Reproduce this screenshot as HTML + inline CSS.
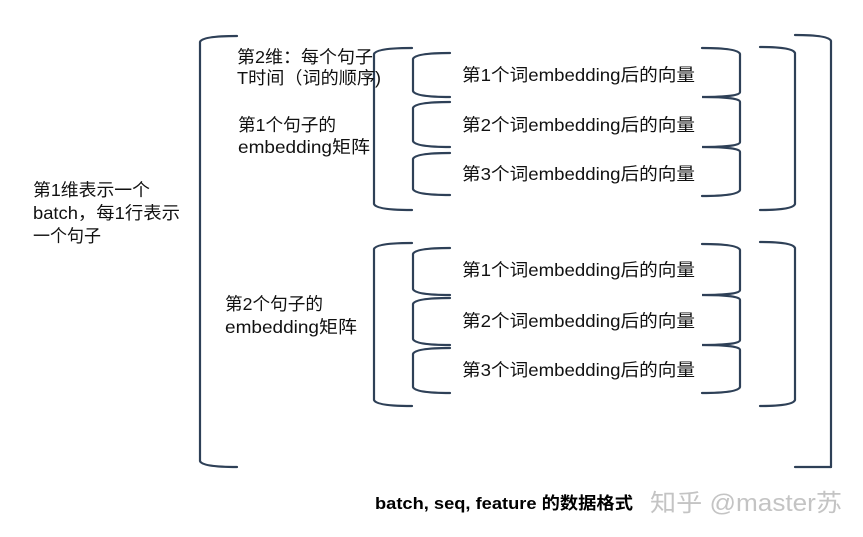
<!DOCTYPE html>
<html><head><meta charset="utf-8"><style>
html,body{margin:0;padding:0;background:#fff;}
svg{display:block;}
text{font-family:"Liberation Sans","Noto Sans CJK SC",sans-serif;fill:#111;}
</style></head><body>
<svg width="863" height="537" viewBox="0 0 863 537" xmlns="http://www.w3.org/2000/svg">
<g fill="none" stroke="#2e4057" stroke-width="2.2" stroke-linecap="round">
<path d="M237 36 Q202 36 200 42 L200 461 Q202 467 237 467"/>
<path d="M795 35 Q829 35 831 41 L831 467"/>
<path d="M795 467 L831 467"/>
<path d="M412 48 Q376 48 374 54 L374 204 Q376 210 412 210"/>
<path d="M760 47 Q793 47 795 53 L795 204 Q793 210 760 210"/>
<path d="M450 53 Q415 53 413 59 L413 91 Q415 97 450 97"/>
<path d="M450 102 Q415 102 413 108 L413 141 Q415 147 450 147"/>
<path d="M450 153 Q415 153 413 159 L413 189 Q415 195 450 195"/>
<path d="M702 48 Q738 48 740 54 L740 92 Q740 97 702 97 Q740 97 740 102 L740 142 Q740 147 702 147 Q740 147 740 152 L740 190 Q738 196 702 196"/>
<path d="M412 243 Q376 243 374 249 L374 400 Q376 406 412 406"/>
<path d="M760 242 Q793 242 795 248 L795 400 Q793 406 760 406"/>
<path d="M450 248 Q415 248 413 254 L413 289 Q415 295 450 295"/>
<path d="M450 298 Q415 298 413 304 L413 339 Q415 345 450 345"/>
<path d="M450 348 Q415 348 413 354 L413 387 Q415 393 450 393"/>
<path d="M702 244 Q738 244 740 250 L740 290 Q740 295 702 295 Q740 295 740 300 L740 340 Q740 345 702 345 Q740 345 740 350 L740 387 Q738 393 702 393"/>
</g>
<g font-size="17.5">
<text x="462" y="81" textLength="233" lengthAdjust="spacingAndGlyphs">第1个词embedding后的向量</text>
<text x="462" y="131" textLength="233" lengthAdjust="spacingAndGlyphs">第2个词embedding后的向量</text>
<text x="462" y="180" textLength="233" lengthAdjust="spacingAndGlyphs">第3个词embedding后的向量</text>
<text x="462" y="276" textLength="233" lengthAdjust="spacingAndGlyphs">第1个词embedding后的向量</text>
<text x="462" y="327" textLength="233" lengthAdjust="spacingAndGlyphs">第2个词embedding后的向量</text>
<text x="462" y="376" textLength="233" lengthAdjust="spacingAndGlyphs">第3个词embedding后的向量</text>
<text x="237" y="63" textLength="136" lengthAdjust="spacingAndGlyphs">第2维：每个句子</text>
<text x="237" y="84" textLength="144" lengthAdjust="spacingAndGlyphs">T时间（词的顺序)</text>
<text x="238" y="131" textLength="98" lengthAdjust="spacingAndGlyphs">第1个句子的</text>
<text x="238" y="153" textLength="132" lengthAdjust="spacingAndGlyphs">embedding矩阵</text>
<text x="225" y="310" textLength="98" lengthAdjust="spacingAndGlyphs">第2个句子的</text>
<text x="225" y="333" textLength="132" lengthAdjust="spacingAndGlyphs">embedding矩阵</text>
<text x="33" y="196" textLength="117" lengthAdjust="spacingAndGlyphs">第1维表示一个</text>
<text x="33" y="219" textLength="147" lengthAdjust="spacingAndGlyphs">batch，每1行表示</text>
<text x="33" y="242" textLength="68" lengthAdjust="spacingAndGlyphs">一个句子</text>
</g>
<text x="375" y="509" font-size="17" font-weight="bold" textLength="258" lengthAdjust="spacingAndGlyphs" style="fill:#000">batch, seq, feature 的数据格式</text>
<text x="650" y="511" font-size="24" textLength="192" lengthAdjust="spacingAndGlyphs" style="fill:#c4c4c4">知乎 @master苏</text>
</svg>
</body></html>
